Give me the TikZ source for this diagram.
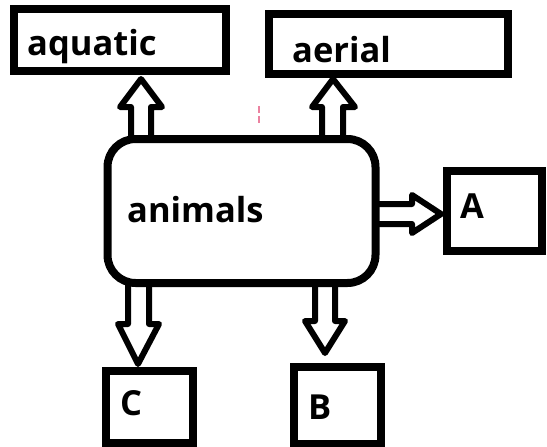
\documentclass[tikz,border=0pt]{standalone}
\usepackage{fontspec}
\setmainfont{Open Sans}
\definecolor{pinkmark}{RGB}{235,130,160}
\begin{document}
\begin{tikzpicture}[x=1pt,y=-1pt,
  box/.style={draw=black, line width=8pt, fill=white, inner sep=0pt},
  blk/.style={draw=black, line width=6pt, fill=white, line join=round},
  lbl/.style={font=\fontsize{34.5}{40}\selectfont\bfseries, anchor=base west, inner sep=0pt}]
\useasboundingbox (0,0) rectangle (547,447);
% block arrows
\draw[blk] (131,140) -- (131,107) -- (120,107) -- (141,79) -- (162,107) -- (151,107) -- (151,140);
\draw[blk] (322,140) -- (322,107) -- (312,107) -- (333,79) -- (355,107) -- (343,107) -- (343,140);
\draw[blk] (378,204) -- (412,204) -- (412,195) -- (441,214) -- (412,233) -- (412,224) -- (378,224);
\draw[blk] (128,283) -- (128,324) -- (118,324) -- (138,364) -- (159,324) -- (149,324) -- (149,283);
\draw[blk] (315,283) -- (315,321) -- (305,321) -- (325,353) -- (345,321) -- (335,321) -- (335,283);
% boxes
\node[box, minimum width=212pt, minimum height=62pt] (aquatic) at (120,40) {};
\node[box, minimum width=239pt, minimum height=60pt] (aerial) at (388.5,44) {};
\node[box, rounded corners=28pt, minimum width=268pt, minimum height=144pt] (animals) at (241.5,211) {};
\node[box, minimum width=95pt, minimum height=80pt] (A) at (494.5,211) {};
\node[box, minimum width=87pt, minimum height=72pt] (C) at (149.5,407) {};
\node[box, minimum width=87pt, minimum height=77pt] (B) at (337.5,405) {};
% labels
\node[lbl] (taquatic) at (27,55) {aquatic};
\node[lbl] (taerial) at (292,63) {aerial};
\node[lbl] (tanimals) at (127,222) {animals};
\node[lbl] (tA) at (460,218) {A};
\node[lbl] (tC) at (120,415) {C};
\node[lbl] (tB) at (308,419) {B};
% small mark
\draw[pinkmark, line width=2pt, dash pattern=on 7pt off 3pt] (259,106) -- (259,123);
\end{tikzpicture}
\end{document}
